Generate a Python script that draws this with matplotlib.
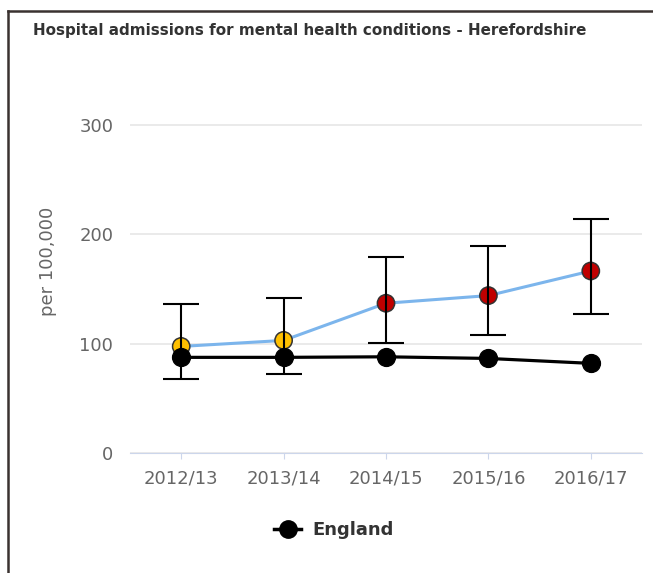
import matplotlib.pyplot as plt
from matplotlib.lines import Line2D

years = ["2012/13", "2013/14", "2014/15", "2015/16", "2016/17"]
hereford = [97.5, 103, 137, 144, 166.5]
hereford_lo = [68, 72.5, 100.5, 108, 127]
hereford_hi = [136, 142, 179, 189.5, 214.5]
england = [87.5, 87.5, 88, 86.5, 82]
# significance colour per point (similar / worse)
point_colors = ["#FFC000", "#FFC000", "#C00000", "#C00000", "#C00000"]

fig = plt.figure(figsize=(6.53, 5.73), dpi=100)
ax = fig.add_axes([130 / 653, 1 - 453 / 573, 512 / 653, 382.6 / 573])

x = list(range(len(years)))

ax.plot(x, hereford, color="#7cb5ec", lw=2.2, zorder=3)
ax.scatter(x, hereford, s=155, c=point_colors, edgecolors="#333333",
           linewidths=1.1, zorder=4)

ax.plot(x, england, color="black", lw=2.3, zorder=5)
ax.scatter(x, england, s=165, c="black", zorder=6)

yerr = [[h - lo for h, lo in zip(hereford, hereford_lo)],
        [hi - h for h, hi in zip(hereford, hereford_hi)]]
ax.errorbar(x, hereford, yerr=yerr, fmt="none", ecolor="black",
            elinewidth=1.5, capsize=13, capthick=1.5, zorder=7)

ax.set_xlim(-0.5, 4.5)
ax.set_ylim(0, 350)
ax.set_yticks([0, 100, 200, 300])
ax.set_xticks(x)
ax.set_xticklabels(years)
ax.grid(axis="y", color="#e6e6e6", lw=1.2)
ax.set_axisbelow(True)
for s in ["top", "right", "left"]:
    ax.spines[s].set_visible(False)
ax.spines["bottom"].set_color("#ccd6eb")
ax.tick_params(axis="y", length=0, pad=12, labelsize=13, labelcolor="#666666")
ax.tick_params(axis="x", length=4, color="#ccd6eb", pad=8, labelsize=13,
               labelcolor="#666666")
ax.set_ylabel("per 100,000", fontsize=13, color="#666666", labelpad=16)

fig.text(33 / 653, 1 - 31 / 573, "Hospital admissions for mental health conditions - Herefordshire",
         fontsize=10.9, fontweight="bold", color="#333333", va="center")

# legend
handle = Line2D([], [], color="black", lw=2.5, marker="o", markersize=12.5)
fig.legend([handle], ["England"], loc="center", bbox_to_anchor=(334 / 653, 1 - 530 / 573),
           frameon=False, prop={"size": 13, "weight": "bold"}, labelcolor="#333333",
           handlelength=1.5, handletextpad=0.6)

# partial frame (top and left)
fig.add_artist(Line2D([8 / 653, 8 / 653], [0, 1 - 11 / 573], color="#3a3230", lw=1.8,
                      transform=fig.transFigure))
fig.add_artist(Line2D([8 / 653, 1], [1 - 11 / 573, 1 - 11 / 573], color="#3a3230", lw=1.8,
                      transform=fig.transFigure))

fig.savefig("out.png", dpi=100)
